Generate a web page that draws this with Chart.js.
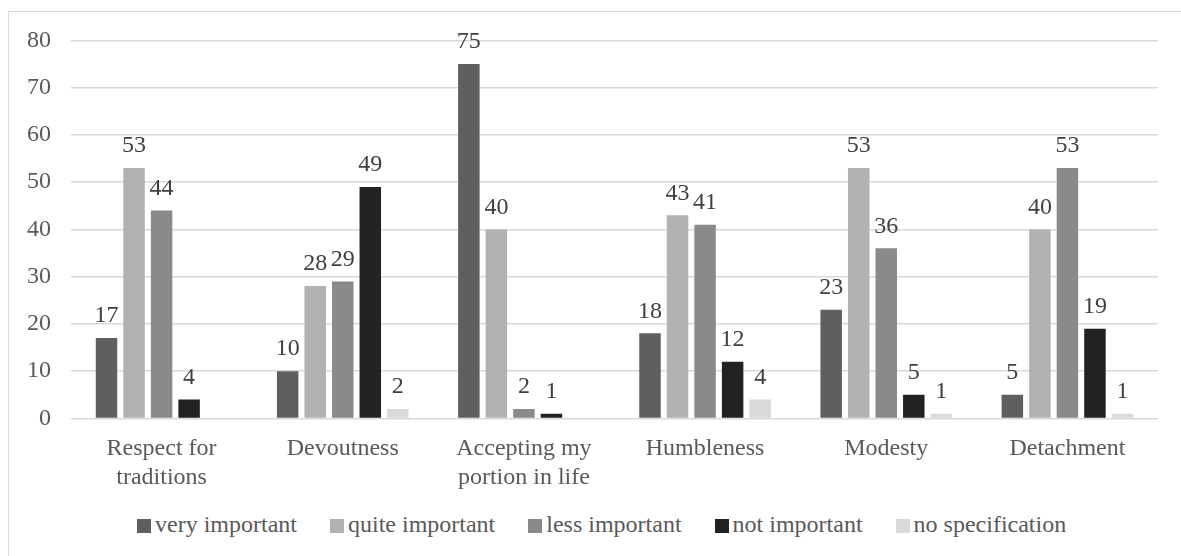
<!DOCTYPE html>
<html>
<head>
<meta charset="utf-8">
<script src="https://cdn.jsdelivr.net/npm/chart.js@4.4.1/dist/chart.umd.min.js"></script>
<style>
  html, body { margin: 0; padding: 0; background: #fff; }
  #frame {
    position: absolute; left: 8px; top: 11px;
    width: 1173px; height: 545px;
    border: 1px solid #d9d9d9; border-right: none; border-bottom: none;
  }
  #plot { position: absolute; left: 7px; top: 6px; width: 1174px; height: 500px; }
  #legend {
    position: absolute; left: 137px; top: 511px;
    display: flex; align-items: center; gap: 33px;
    font: 24px 'Liberation Serif', 'Times New Roman', serif; color: #595959;
    white-space: nowrap;
  }
  #legend span.box { display: inline-block; width: 14px; height: 14px; margin-right: 4px; vertical-align: -1px; }
</style>
</head>
<body>
<div id="frame"></div>
<div id="plot"><canvas id="values"></canvas></div>
<div id="legend"></div>
<script>
var categories = [["Respect for", "traditions"], "Devoutness", ["Accepting my", "portion in life"], "Humbleness", "Modesty", "Detachment"];
var seriesNames = ["very important", "quite important", "less important", "not important", "no specification"];
var veryImportant = [17, 10, 75, 18, 23, 5];
var quiteImportant = [53, 28, 40, 43, 53, 40];
var lessImportant = [44, 29, 2, 41, 36, 53];
var notImportant = [4, 49, 1, 12, 5, 19];
var noSpecification = [null, 2, null, 4, 1, 1];
var yTicks = [0, 10, 20, 30, 40, 50, 60, 70, 80];

var colors = ["#5f5f5f", "#b2b2b2", "#8a8a8a", "#222222", "#d9d9d9"];
var seriesValues = [veryImportant, quiteImportant, lessImportant, notImportant, noSpecification];
var serif = "'Liberation Serif', 'Times New Roman', serif";

Chart.defaults.font.family = serif;
Chart.defaults.font.size = 24;
Chart.defaults.color = "#595959";

// value labels above each bar
var barValues = {
  id: 'barValues',
  afterDatasetsDraw: function (chart) {
    var ctx = chart.ctx;
    ctx.save();
    ctx.font = "24px " + serif;
    ctx.fillStyle = "#404040";
    ctx.textAlign = "center";
    ctx.textBaseline = "middle";
    chart.data.datasets.forEach(function (ds, i) {
      chart.getDatasetMeta(i).data.forEach(function (bar, j) {
        var v = ds.data[j];
        if (v === null) return;
        ctx.fillText(v, bar.x, bar.y - 22);
      });
    });
    ctx.restore();
  }
};

var ctx = document.getElementById("values").getContext("2d");
var chart = new Chart(ctx, {
  type: 'bar',
  data: {
    labels: categories,
    datasets: seriesNames.map(function (name, i) {
      return {
        label: name,
        data: seriesValues[i],
        backgroundColor: colors[i],
        barPercentage: 0.78,
        categoryPercentage: 0.76
      };
    })
  },
  options: {
    responsive: true,
    maintainAspectRatio: false,
    animation: false,
    layout: { padding: { left: 0, right: 23, top: 0, bottom: 6 } },
    scales: {
      y: {
        min: 0,
        max: 80,
        afterBuildTicks: function (axis) {
          axis.ticks = yTicks.map(function (v) { return { value: v }; });
        },
        border: { display: false },
        grid: { color: "#d9d9d9", lineWidth: 1.5, drawTicks: false },
        ticks: { padding: 20, color: "#595959" }
      },
      x: {
        border: { display: false },
        grid: { display: false },
        ticks: { padding: 8, color: "#595959", maxRotation: 0 }
      }
    },
    plugins: {
      legend: { display: false },
      tooltip: { enabled: false }
    }
  },
  plugins: [barValues]
});

// legend row built from the same datasets
var legend = document.getElementById("legend");
chart.data.datasets.forEach(function (ds) {
  var item = document.createElement("div");
  var box = document.createElement("span");
  box.className = "box";
  box.style.background = ds.backgroundColor;
  item.appendChild(box);
  item.appendChild(document.createTextNode(ds.label));
  legend.appendChild(item);
});
</script>
</body>
</html>
